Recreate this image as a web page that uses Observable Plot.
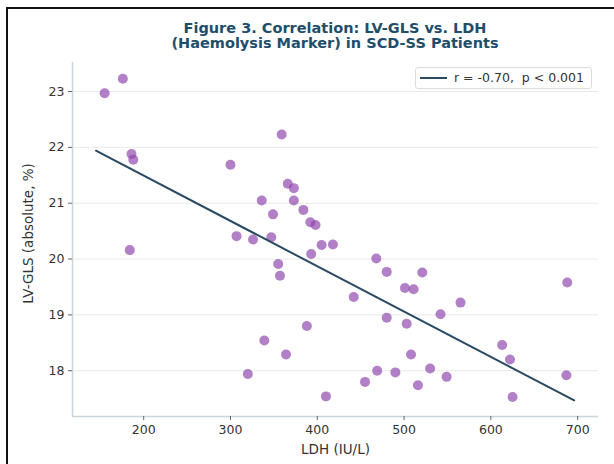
<!DOCTYPE html>
<html>
<head>
<meta charset="utf-8">
<script src="https://cdn.jsdelivr.net/npm/d3@7"></script>
<script src="https://cdn.jsdelivr.net/npm/@observablehq/plot@0.6"></script>
<style>
  html, body { margin: 0; padding: 0; background: #fff; overflow: hidden; }
  #wrap { position: relative; width: 614px; height: 464px; overflow: hidden; font-family: "DejaVu Sans", sans-serif; }
  #border { position: absolute; left: 6px; top: 7px; width: 700px; height: 600px; border: 2px solid #111; box-sizing: border-box; }
  #title { position: absolute; left: 72px; width: 526px; top: 21px; text-align: center; font-weight: bold; font-size: 14.5px; line-height: 15px; color: #1f4e6b; }
  #chart { position: absolute; left: 0; top: 0; }
  #legend { position: absolute; left: 415px; top: 67px; width: 177px; height: 22px; border: 1px solid #dcdcdc; border-radius: 3px; background: #fff; box-sizing: border-box; font-size: 12.5px; color: #333; }
  #legend .sw { position: absolute; left: 4px; top: 9px; width: 27px; height: 2px; background: #2a4a63; }
  #legend .tx { position: absolute; left: 38px; top: 2px; white-space: pre; }
</style>
</head>
<body>
<div id="wrap">
  <div id="border"></div>
  <div id="chart"></div>
  <div id="title">Figure 3. Correlation: LV-GLS vs. LDH<br>(Haemolysis Marker) in SCD-SS Patients</div>
  <div id="legend"><div class="sw"></div><div class="tx">r = -0.70,  p &lt; 0.001</div></div>
</div>
<script>
// LDH (IU/L) values
const ldh = [155, 176, 186, 188, 184, 300, 359, 366, 373, 336,
             373, 384, 349, 392, 398, 307, 326, 347, 405, 418,
             393, 355, 357, 468, 480, 521, 501, 511, 442, 565,
             542, 480, 503, 388, 688, 613, 622, 508, 469, 490,
             530, 549, 455, 516, 687, 410, 625, 339, 364, 320];
// LV-GLS (absolute, %) values
const gls = [22.97, 23.23, 21.88, 21.78, 20.16, 21.69, 22.23, 21.35, 21.27, 21.05,
             21.05, 20.88, 20.80, 20.66, 20.61, 20.41, 20.35, 20.39, 20.25, 20.26,
             20.09, 19.91, 19.70, 20.01, 19.77, 19.76, 19.48, 19.46, 19.32, 19.22,
             19.01, 18.95, 18.84, 18.80, 19.58, 18.46, 18.20, 18.29, 18.00, 17.97,
             18.04, 17.89, 17.80, 17.74, 17.92, 17.54, 17.53, 18.54, 18.29, 17.94];
// Regression line endpoints
const fitX = [145, 696];
const fitY = [21.94, 17.47];
// Ticks
const xTicks = [200, 300, 400, 500, 600, 700];
const yTicks = [18, 19, 20, 21, 22, 23];
const xDomain = [118, 724];
const yDomain = [17.18, 23.52];

const points = ldh.map((x, i) => ({x, y: gls[i]}));
const fit = fitX.map((x, i) => ({x, y: fitY[i]}));

const spine = "#c9d5da";
const chart = Plot.plot({
  width: 614,
  height: 464,
  marginTop: 62,
  marginLeft: 72,
  marginRight: 16,
  marginBottom: 48,
  x: {domain: xDomain, label: null},
  y: {domain: yDomain, label: null},
  style: {fontFamily: "DejaVu Sans", fontSize: "12.5px", color: "#333", background: "transparent"},
  marks: [
    Plot.gridY(yTicks, {stroke: "#e9e9e9", strokeOpacity: 1, strokeWidth: 1}),
    Plot.ruleX([xDomain[0]], {stroke: spine, strokeWidth: 1.5}),
    Plot.ruleY([yDomain[0]], {stroke: spine, strokeWidth: 1.5}),
    Plot.axisX(xTicks, {tickSize: 4, tickPadding: 5, stroke: "#666", fill: "#333", label: null, fontSize: 12.5, tickFormat: d3.format("d")}),
    Plot.axisY(yTicks, {tickSize: 4, tickPadding: 4, stroke: "#666", fill: "#333", label: null, fontSize: 12.5, tickFormat: d3.format("d")}),
    Plot.dot(points, {x: "x", y: "y", r: 5, fill: "#8e44ad", fillOpacity: 0.68, stroke: "none"}),
    Plot.line(fit, {x: "x", y: "y", stroke: "#2a4a63", strokeWidth: 2}),
    Plot.text(["LDH (IU/L)"], {frameAnchor: "bottom", dy: 33, fontSize: 13.5, fill: "#333", lineAnchor: "middle"}),
    Plot.text(["LV-GLS (absolute, %)"], {frameAnchor: "left", dx: -44, dy: -6, rotate: -90, fontSize: 13.5, fill: "#333", textAnchor: "middle", lineAnchor: "middle"})
  ]
});
document.getElementById("chart").appendChild(chart);
</script>
</body>
</html>
